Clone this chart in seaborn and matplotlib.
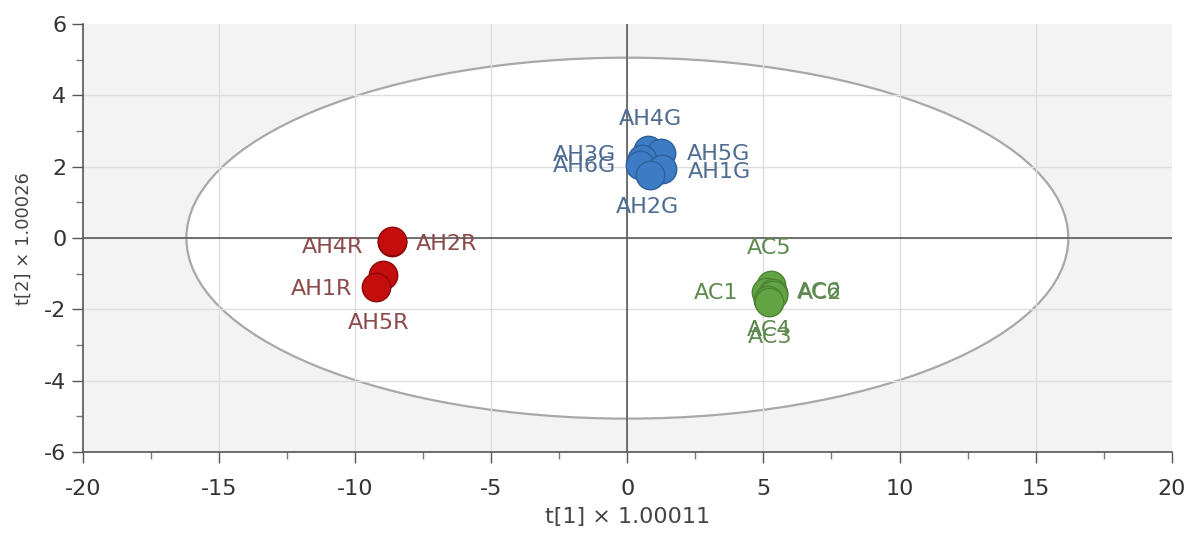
import numpy as np
import pandas as pd
import matplotlib
matplotlib.use("Agg")
import matplotlib.pyplot as plt
from matplotlib.patches import Ellipse
import seaborn as sns

# Score values t[1], t[2] for each sample
red_names = ["AH4R", "AH2R", "AH5R", "AH1R"]
red_t1 = [-8.66, -8.64, -8.97, -9.24]
red_t2 = [-0.10, -0.09, -1.04, -1.38]

blue_names = ["AH4G", "AH5G", "AH3G", "AH6G", "AH1G", "AH2G"]
blue_t1 = [0.77, 1.22, 0.52, 0.48, 1.28, 0.85]
blue_t2 = [2.46, 2.40, 2.22, 2.05, 1.93, 1.78]

green_names = ["AC5", "AC1", "AC6", "AC2", "AC4", "AC3"]
green_t1 = [5.26, 5.08, 5.36, 5.34, 5.18, 5.22]
green_t2 = [-1.32, -1.51, -1.54, -1.60, -1.72, -1.78]

# Hotelling T2 ellipse semi-axes
ellipse_a = 16.2
ellipse_b = 5.06

x_ticks = [-20, -15, -10, -5, 0, 5, 10, 15, 20]
y_ticks = [-6, -4, -2, 0, 2, 4, 6]

df = pd.DataFrame({
    "name": red_names + blue_names + green_names,
    "t1": red_t1 + blue_t1 + green_t1,
    "t2": red_t2 + blue_t2 + green_t2,
    "group": ["R"] * len(red_names) + ["G"] * len(blue_names) + ["C"] * len(green_names),
})

palette = {"R": "#c40d0d", "G": "#3d7cc4", "C": "#62a443"}
edge = {"R": "#8e0a0a", "G": "#2d5f9a", "C": "#4c8234"}
text_col = {"R": "#8c4b4b", "G": "#4f6c93", "C": "#5f8a4f"}

# label offsets in pixels relative to each point
label_off = {
    "AH4R": (-59, -5), "AH2R": (54, -3), "AH5R": (-5, -48), "AH1R": (-54, -2),
    "AH4G": (2, 31), "AH5G": (58, -1), "AH3G": (-57, 4), "AH6G": (-56, -1),
    "AH1G": (57, -3), "AH2G": (-3, -32),
    "AC5": (-1, 37), "AC1": (-50, -1), "AC6": (46, 1), "AC2": (47, 2),
    "AC4": (1, -30), "AC3": (1, -35),
}

sns.set_style("ticks")
plt.rcParams["font.family"] = ["DejaVu Sans"]
plt.rcParams["axes.unicode_minus"] = False

fig = plt.figure(figsize=(11.92, 5.37), dpi=100)
ax = fig.add_axes([0.0696, 0.158, 0.9134, 0.797])
ax.set_facecolor("#f3f3f3")

ax.set_xlim(-20, 20)
ax.set_ylim(-6, 6)

ax.add_patch(Ellipse((0, 0), 2 * ellipse_a, 2 * ellipse_b, facecolor="white",
                     edgecolor="#a8a8a8", lw=1.6, zorder=1))

for xv in x_ticks[1:-1]:
    ax.axvline(xv, color="#dddddd", lw=1.0, zorder=1.5)
for yv in y_ticks[1:-1]:
    ax.axhline(yv, color="#dddddd", lw=1.0, zorder=1.5)
ax.axhline(0, color="#5a5a5a", lw=1.2, zorder=2)
ax.axvline(0, color="#5a5a5a", lw=1.2, zorder=2)

for g in ["C", "G", "R"]:
    sub = df[df["group"] == g]
    sns.scatterplot(data=sub, x="t1", y="t2", color=palette[g], edgecolor=edge[g],
                    linewidth=1.0, s=420, ax=ax, zorder=4, legend=False)

for _, r in df.iterrows():
    dx, dy = label_off[r["name"]]
    ax.annotate(r["name"], (r["t1"], r["t2"]), xytext=(dx, dy),
                textcoords="offset pixels", ha="center", va="center",
                fontsize=16, color=text_col[r["group"]], zorder=5)

ax.set_xticks(x_ticks)
ax.set_yticks(y_ticks)
ax.set_xticks(np.arange(-20, 21, 2.5), minor=True)
ax.set_yticks(np.arange(-6, 7, 1), minor=True)
ax.tick_params(axis="both", which="major", length=8, width=1.0, color="#555555",
               labelsize=16, labelcolor="#333333", pad=4)
ax.tick_params(axis="x", which="major", pad=11)
ax.tick_params(axis="both", which="minor", length=5, width=1.0, color="#777777")

sns.despine(ax=ax)
for s in ["left", "bottom"]:
    ax.spines[s].set_color("#555555")
    ax.spines[s].set_linewidth(1.2)

ax.set_xlabel("t[1] × 1.00011", fontsize=16, color="#444444", labelpad=6)
ax.set_ylabel("t[2] × 1.00026", fontsize=13, color="#444444", labelpad=8)

fig.savefig("out.png", dpi=100, facecolor="white")
